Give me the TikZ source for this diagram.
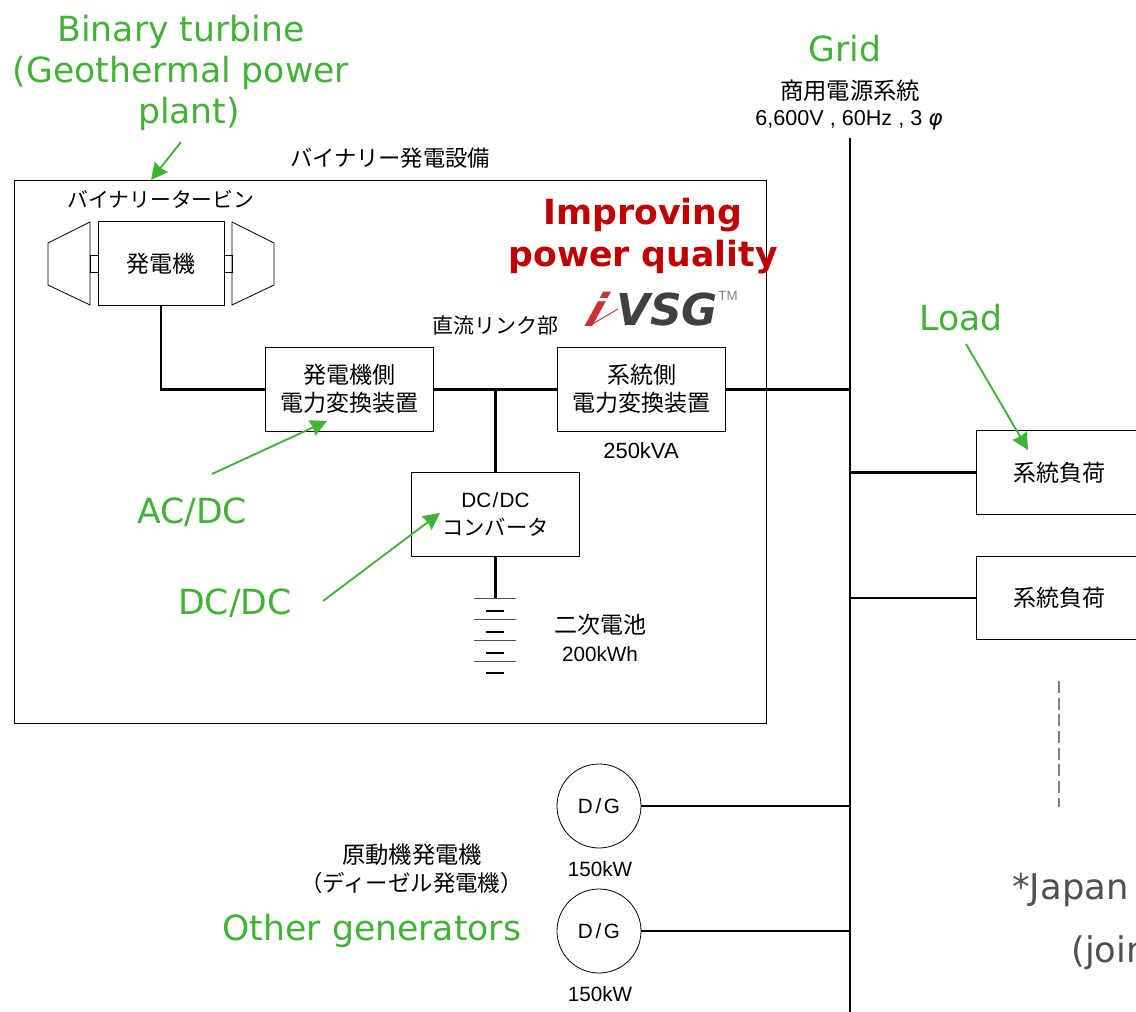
\documentclass[tikz,border=0pt]{standalone}
\usepackage{fontspec}
\usetikzlibrary{arrows.meta}
\setmainfont{Liberation Sans}
\newfontfamily\cjk{Noto Sans CJK JP}
\newfontfamily\vd{DejaVu Sans}
\newcommand{\jsz}[1]{\cjk\fontsize{#1}{20}\selectfont}
\definecolor{annot}{RGB}{66,178,54}
\definecolor{redt}{RGB}{192,0,0}
\definecolor{logog}{RGB}{64,64,64}
\definecolor{logor}{RGB}{200,50,50}
\definecolor{noteg}{RGB}{80,80,80}
\tikzset{
  x=0.75pt,y=-0.75pt,
  boxn/.style={draw=black,line width=0.6pt,minimum width=126pt,minimum height=62.5pt,inner sep=0pt,align=center,font=\cjk\fontsize{17.25}{21}\selectfont},
  thin line/.style={draw=black,line width=0.6pt},
  wire/.style={draw=black,line width=2pt},
  gencirc/.style={circle,draw=black,line width=0.6pt,minimum size=63pt,inner sep=0pt,font=\fontsize{15.5}{16}\selectfont},
  jp/.style={font=\cjk\fontsize{17.25}{16}\selectfont,align=center,inner sep=0pt},
  lat/.style={font=\fontsize{15.5}{16}\selectfont,align=center,inner sep=0pt},
  en/.style={font=\vd\fontsize{26}{31}\selectfont,text=annot,align=center,inner sep=0pt},
  garrow/.style={draw=annot,line width=1.4pt,-{Stealth[length=12.5pt,width=12.5pt,inset=1pt]}},
}
\begin{document}
\begin{tikzpicture}
\useasboundingbox (0,0) rectangle (1136,1012);
\clip (0,0) rectangle (1136,1012);
% outer frame
\node[thin line,minimum width=564pt,minimum height=407.25pt,inner sep=0pt] (frame) at (390.7,452.2) {};
% turbine
\node[boxn,minimum width=94.5pt] (gen) at (161,263.5) {発電機};
\node[thin line,minimum width=6pt,minimum height=12.75pt,inner sep=0pt] (sl) at (94,263.5) {};
\node[thin line,minimum width=6pt,minimum height=12.75pt,inner sep=0pt] (sr) at (228,263.5) {};
\draw[thin line] (90,222) -- (48,243) -- (48,285) -- (90,305) -- cycle;
\draw[thin line] (232,222) -- (274,243) -- (274,285) -- (232,305) -- cycle;
% converters
\node[boxn] (acdc) at (349,389.5) {\raisebox{2.5pt}{発電機側}\\\raisebox{2.5pt}{電力変換装置}};
\node[boxn] (grid) at (641.5,389.5) {\raisebox{2.5pt}{系統側}\\\raisebox{2.5pt}{電力変換装置}};
\node[boxn] (dcdc) at (495.5,514.5) {\fontsize{15.5}{20}\rmfamily\selectfont DC\kern1pt/\kern1ptDC\\\jsz{16}コンバータ};
\node[boxn] (loada) at (1060,472.5) {\hspace*{-1pt}系統負荷};
\node[boxn] (loadb) at (1060,598) {\hspace*{-1pt}系統負荷};
\node[gencirc] (dg1) at (599,806) {D\kern2pt/\kern2ptG};
\node[gencirc] (dg2) at (599,931) {D\kern2pt/\kern2ptG};
% bus
\coordinate (bustop) at (850,138);
\coordinate (busbot) at (850,1012);
\draw[wire] (bustop) -- (busbot);
\draw[wire] (gen.south) |- (acdc.west);
\draw[wire] (acdc.east) -- (grid.west);
\draw[wire] (grid.east) -- (grid.east -| bustop);
\draw[wire] (dcdc.north) -- (dcdc.north |- acdc.east);
\coordinate (battop) at (495.5,598);
\draw[wire] (dcdc.south) -- (battop);
\draw[wire] (loada.west) -- (loada.west -| bustop);
\draw[wire] (loadb.west) -- (loadb.west -| bustop);
\draw[wire] (dg1.east) -- (dg1.east -| bustop);
\draw[wire] (dg2.east) -- (dg2.east -| bustop);
% battery
\foreach \y in {598,619,640,661} \draw[draw=black!70,line width=0.7pt] (474,\y) -- (516,\y);
\foreach \y in {611,632,653,673} \draw[draw=black,line width=1.1pt] (486,\y) -- (504,\y);
% dashed
\draw[draw=gray,line width=0.9pt,dash pattern=on 9pt off 3.5pt] (1059,681) -- (1059,807);
% Japanese labels
\node[jp,font=\jsz{16.7}] (lbin) at (390,158) {バイナリー発電設備};
\node[jp,font=\jsz{15.6}] (lturb) at (161,199) {バイナリータービン};
\node[jp,font=\jsz{15.75}] (ldc) at (495,326) {直流リンク部};
\node[jp,font=\jsz{17.5}] (lgrid) at (850,91) {商用電源系統};
\node[lat,font=\fontsize{16.2}{16}\selectfont] (lgridv) at (849,120) {6,600V , 60Hz , 3 {\vd\itshape φ}};
\node[lat,font=\fontsize{16.5}{16}\selectfont] (l250) at (641,451) {250kVA};
\node[jp] (lbat) at (600,625) {二次電池};
\node[lat] (lbatk) at (600,654) {200kWh};
\node[lat] (lk1) at (600,869) {150kW};
\node[lat] (lk2) at (600,994) {150kW};
\node[jp,font=\jsz{17.5}] (ldg) at (412,855) {原動機発電機};
\node[jp,font=\jsz{16.8}] (ldg2) at (411.5,883) {（ディーゼル発電機）};
% English labels
\node[en] (ebin) at (181,73) {Binary turbine\\(Geothermal power\\\hspace*{12pt}plant)};
\node[en] (egrid) at (845,49) {Grid};
\node[en] (eload) at (961,318) {Load};
\node[en] (eacdc) at (192,512) {AC/DC};
\node[en] (edcdc) at (235,603) {DC/DC};
\node[en] (eoth) at (372,931) {Other generators};
\node[font=\vd\bfseries\fontsize{26}{31.5}\selectfont,text=redt,align=center,inner sep=0pt] (eimp) at (643,236) {Improving\\power quality};
% logo
\node[font=\vd\bfseries\itshape\fontsize{34}{40}\selectfont,text=logor,inner sep=0pt,xslant=0.35] (logoi) at (597,309) {i};
\coordinate (swa) at (589,326); \coordinate (swb) at (618,309);
\draw[draw=logor,line width=0.7pt] (swa) -- (swb);
\node[font=\vd\bfseries\itshape\fontsize{33}{40}\selectfont,text=logog,inner sep=0pt] (logov) at (667,309) {VSG};
\node[font=\fontsize{10}{10}\selectfont,text=gray,inner sep=0pt] (logot) at (728,296) {TM};
% note
\node[font=\vd\fontsize{26.5}{31}\selectfont,text=noteg,anchor=west,inner sep=0pt] (n1) at (1012,890) {*Japan};
\node[font=\vd\fontsize{26.5}{31}\selectfont,text=noteg,anchor=west,inner sep=0pt] (n2) at (1071,953) {(join};
% green arrows
\coordinate (a1s) at (181,142); \coordinate (a1e) at (151,180);
\coordinate (a2s) at (966,344); \coordinate (a2e) at (1028,450);
\coordinate (a3s) at (212,474); \coordinate (a3e) at (327,421);
\coordinate (a4s) at (323,601); \coordinate (a4e) at (440,513);
\draw[garrow] (a1s) -- (a1e);
\draw[garrow] (a2s) -- (a2e);
\draw[garrow] (a3s) -- (a3e);
\draw[garrow] (a4s) -- (a4e);
\end{tikzpicture}
\end{document}
